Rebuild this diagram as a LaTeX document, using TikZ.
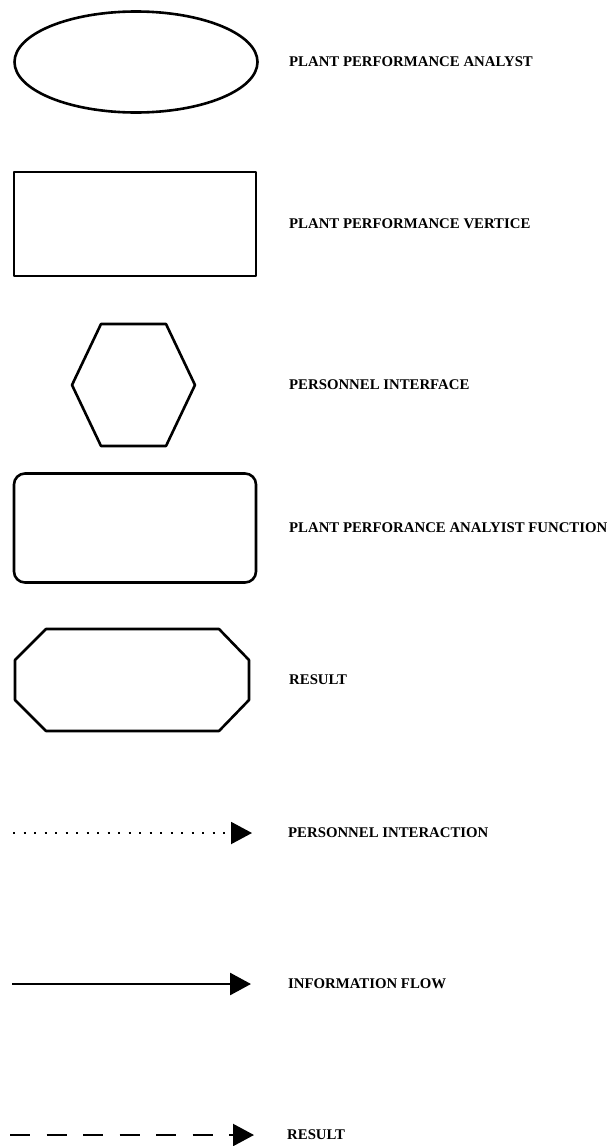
\documentclass[tikz,border=0pt]{standalone}
\usepackage{fontspec}
\setmainfont{Liberation Serif}
\usepackage{tikz}
\usetikzlibrary{arrows.meta,positioning,shapes.geometric}

\begin{document}
\begin{tikzpicture}[x=1pt, y=-1pt,
    outline/.style={draw, line width=2.6pt, line join=round},
    legendtext/.style={anchor=west, inner sep=0pt, font=\bfseries\fontsize{14.8}{18}\selectfont},
    flowtip/.style={-{Triangle[length=21pt, width=22pt]}}]
    \useasboundingbox (0,0) rectangle (613,1146);

    % analyst
    \node[outline, ellipse, minimum width=243pt, minimum height=101pt, inner sep=0pt] (analyst) at (136,62) {};
    \node[legendtext] (analystlbl) at (289,62) {PLANT PERFORMANCE ANALYST};

    % vertice
    \node[outline, rectangle, minimum width=242pt, minimum height=104pt, inner sep=0pt] (vertice) at (135,224) {};
    \node[legendtext] (verticelbl) at (289,224) {PLANT PERFORMANCE VERTICE};

    % personnel interface
    \draw[outline] (101,324) -- (166,324) -- (195,385) -- (166,446) -- (101,446) -- (72,385) -- cycle;
    \node[legendtext] (interfacelbl) at (289,385) {PERSONNEL INTERFACE};

    % analyst function
    \node[outline, rectangle, rounded corners=11pt, minimum width=242pt, minimum height=109pt, inner sep=0pt] (function) at (135,528) {};
    \node[legendtext] (functionlbl) at (289,528) {PLANT PERFORANCE ANALYIST FUNCTION};

    % result
    \draw[outline] (46,629) -- (219,629) -- (249,660) -- (249,700) -- (219,731) -- (46,731) -- (15,700) -- (15,660) -- cycle;
    \node[legendtext] (resultlbl) at (289,680) {RESULT};

    % personnel interaction
    \coordinate (dotA) at (13,833);
    \coordinate (dotB) at (252,833);
    \draw[flowtip, line width=2pt, dash pattern=on 2pt off 8.5pt] (dotA) -- (dotB);
    \node[legendtext] (interactionlbl) at (288,833) {PERSONNEL INTERACTION};

    % information flow
    \coordinate (flowA) at (12,984);
    \coordinate (flowB) at (251,984);
    \draw[flowtip, line width=2.6pt] (flowA) -- (flowB);
    \node[legendtext] (flowlbl) at (288,984) {INFORMATION FLOW};

    % result flow
    \coordinate (dashA) at (10,1135);
    \coordinate (dashB) at (254,1135);
    \draw[flowtip, line width=2.2pt, dash pattern=on 20pt off 16.5pt] (dashA) -- (dashB);
    \node[legendtext] (resultflowlbl) at (287,1135) {RESULT};
\end{tikzpicture}
\end{document}
